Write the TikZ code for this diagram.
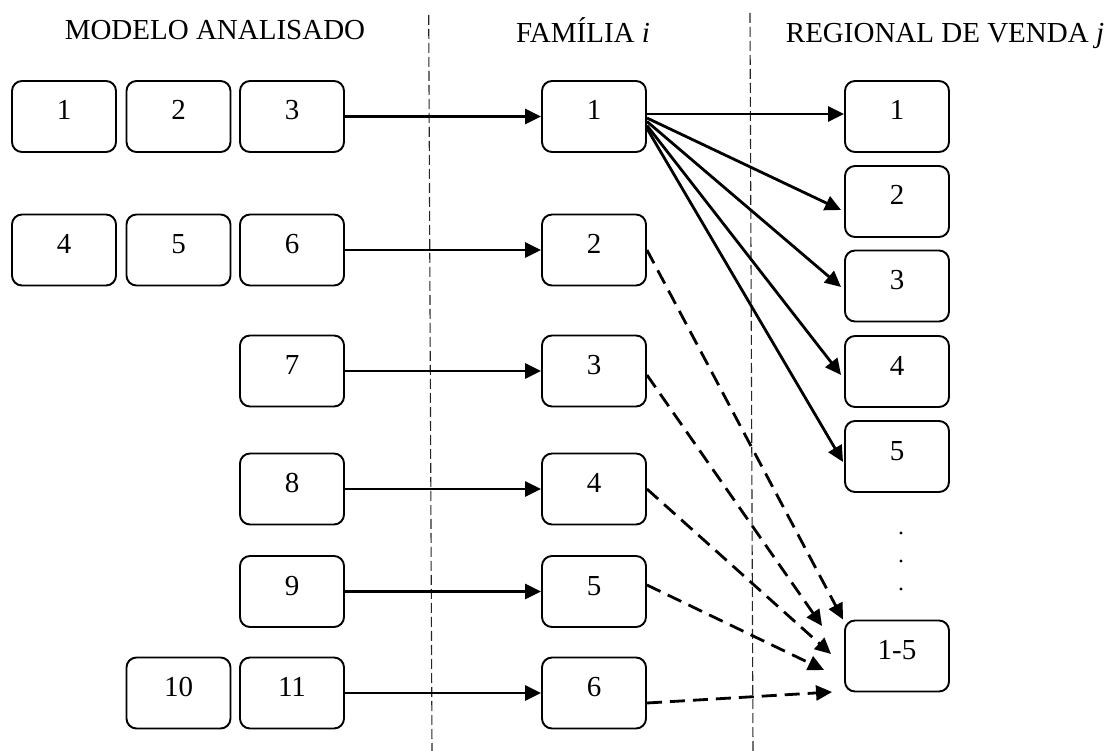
\documentclass[tikz,border=0pt]{standalone}
\usepackage{fontspec}
\setmainfont{Liberation Serif}
\usetikzlibrary{arrows.meta,calc}
\begin{document}
\begin{tikzpicture}[x=1pt,y=-1pt,
  box/.style={draw,line width=1.9pt,rounded corners=10pt,minimum width=104pt,minimum height=71pt,inner sep=0pt,text height=20pt,text depth=13pt,font=\fontsize{29}{34}\selectfont},
  title/.style={anchor=base,inner sep=0pt,font=\fontsize{29}{34}\selectfont},
  arr/.style={line width=2.8pt,-{Triangle[length=16pt,width=15pt]}},
  darr/.style={arr,dash pattern=on 15pt off 8pt},
  sep/.style={line width=1.1pt,black!85,dash pattern=on 10pt off 4pt}]
\useasboundingbox (0,0) rectangle (1113,751);

% titles
\node[title] (t1) at (215,39.3) {MODELO ANALISADO};
\node[title] (t2) at (583,42.5) {FAMÍLIA \textit{i}};
\node[title] (t3) at (945,42.5) {REGIONAL DE VENDA \textit{j}};

% separators
\coordinate (s1a) at (428.7,15);
\coordinate (s1b) at (432,751);
\coordinate (s2a) at (750,13);
\coordinate (s2b) at (753,751);
\draw[sep] (s1a) -- (s1b);
\draw[sep] (s2a) -- (s2b);

% modelo analisado
\node[box] (a1) at (64,116.5) {1};
\node[box] (a2) at (178.5,116.5) {2};
\node[box] (a3) at (292,116.5) {3};
\node[box] (a4) at (64,250) {4};
\node[box] (a5) at (178.5,250) {5};
\node[box] (a6) at (292,250) {6};
\node[box] (a7) at (292,371) {7};
\node[box] (a8) at (292,489) {8};
\node[box] (a9) at (292,591.5) {9};
\node[box] (a10) at (178.5,693) {10};
\node[box] (a11) at (292,693) {11};

% familia
\node[box] (f1) at (594,116.5) {1};
\node[box] (f2) at (594,250) {2};
\node[box] (f3) at (594,371) {3};
\node[box] (f4) at (594,489) {4};
\node[box] (f5) at (594,591.5) {5};
\node[box] (f6) at (594,693) {6};

% regional
\node[box] (r1) at (897,116.5) {1};
\node[box] (r2) at (897,201.5) {2};
\node[box] (r3) at (897,286) {3};
\node[box] (r4) at (897,371.5) {4};
\node[box] (r5) at (897,456.5) {5};
\node[box] (r6) at (897,656) {1-5};

% dots
\foreach \yy in {533,561,589} \fill (901,\yy) circle (1.7);

% left arrows
\draw[arr] (a3) -- (f1);
\draw[arr] (a6) -- (f2);
\draw[arr] (a7) -- (f3);
\draw[arr] (a8) -- (f4);
\draw[arr] (a9) -- (f5);
\draw[arr] (a11) -- (f6);

% fan from familia 1
\draw[arr] ($(f1.east)+(0,-2.5)$) -- ($(r1.west)+(0,-2.5)$);
\draw[arr] ($(f1.east)+(0,1.5)$) -- ($(r2.west)+(-3,8.5)$);
\draw[arr] ($(f1.east)+(0,5)$) -- ($(r3.west)+(-3,1)$);
\draw[arr] ($(f1.east)+(0,9)$) -- ($(r4.west)+(-3,3.5)$);
\draw[arr] ($(f1.east)+(0,12)$) -- ($(r5.west)+(-1,5.5)$);

% dashed to 1-5
\draw[darr] (f2.east) -- ($(r6.north west)+(-1,0)$);
\draw[darr] ($(f3.east)+(0,4)$) -- ($(r6.west)+(-22,-30)$);
\draw[darr] (f4.east) -- ($(r6.west)+(-13,-2)$);
\draw[darr] ($(f5.east)+(0,-6.5)$) -- ($(r6.west)+(-20,14)$);
\draw[darr] ($(f6.east)+(0,10)$) -- ($(r6.west)+(-12,36)$);
\end{tikzpicture}
\end{document}
